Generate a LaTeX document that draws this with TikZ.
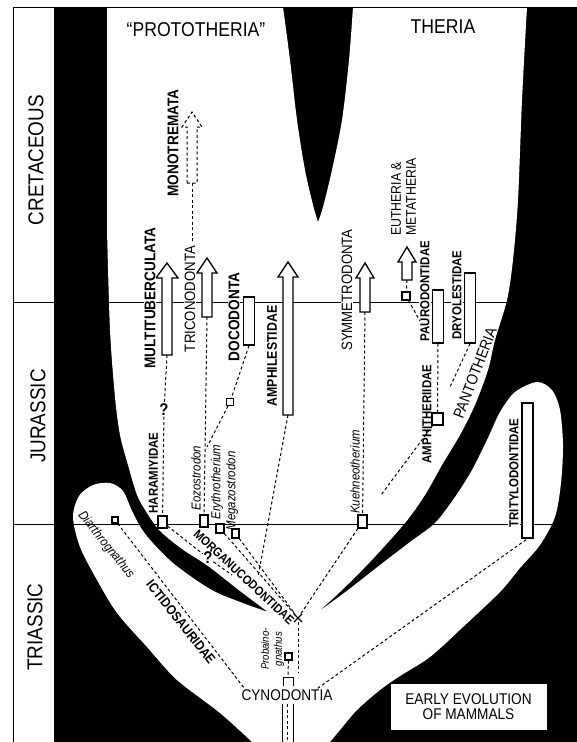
\documentclass[tikz,border=0pt]{standalone}
\usepackage{fontspec}
\setmainfont{Liberation Sans}[FakeStretch=0.88]
\usetikzlibrary{shapes.misc}

\newcommand*{\kcret}{302}
\newcommand*{\kjur}{524}

% open block arrow: [style]{name}{x}{tip}{base}{head half width}
\newcommand{\lineage}[6][]{%
	\draw[arrowline,#1] (#3-5,#5) -- (#3-5,#4+15) -- (#3-#6,#4+15) -- (#3,#4)
		-- (#3+#6,#4+15) -- (#3+5,#4+15) -- (#3+5,#5) -- cycle;
	\coordinate (#2) at (#3,#5);}

\begin{document}
\begin{tikzpicture}
[
	x=1pt, y=-1pt,
	link/.style={line width=1pt, dash pattern=on 3pt off 2.5pt},
	arrowline/.style={draw, fill=white, line width=1.3pt, line join=miter},
	bar/.style={draw, fill=white, line width=1.3pt, inner sep=0pt, minimum width=11pt},
	genus/.style={draw, fill=white, line width=1.1pt, inner sep=0pt},
	period/.style={rotate=90, font=\fontsize{21.5}{24}\selectfont},
	group/.style={font=\fontsize{20}{22}\selectfont},
	order/.style={inner sep=1pt, font=\fontsize{15}{17}\selectfont},
	boldorder/.style={inner sep=1pt, font=\bfseries\fontsize{15.5}{17}\selectfont},
	family/.style={inner sep=1pt, font=\bfseries\fontsize{13}{15}\selectfont},
	species/.style={inner sep=1pt, font=\itshape\fontsize{13}{14}\selectfont},
	query/.style={inner sep=0.5pt, font=\bfseries\fontsize{17}{18}\selectfont}
]

	\useasboundingbox (0,0) rectangle (577,742);

	% black ground and the white branches
	\fill[black] (54,7) rectangle (577,742);
	\fill[white] plot[smooth, tension=0.5] coordinates {(252,742) (220,713) (177,680) (147,647) (117,613) (97,580) (80,547) (73,517) (79,496) (93,485) (110,483) (123,491) (133,513) (146,535) (173,563) (210,589) (240,602) (268,612)}
		-- plot[smooth, tension=0.5] coordinates {(268,612) (240,591) (208,566) (182,549) (160,531) (147,513) (137,495) (128,465) (120,435) (115,397) (110,330) (107,230)}
		-- (107,7) -- (283,7)
		-- plot[smooth, tension=0.5] coordinates {(283,7) (290,60) (297,120) (305,170) (313,205) (318,222)}
		-- plot[smooth, tension=0.5] coordinates {(318,222) (323,207) (332,170) (342,120) (349,60) (353,7)}
		-- (527,7)
		-- plot[smooth, tension=0.5] coordinates {(527,7) (522,100) (518,200) (513,260) (507,300) (495,340) (488,370) (475,405) (460,435) (442,465) (425,495) (405,523) (370,562) (340,592) (318,612)}
		-- plot[smooth, tension=0.5] coordinates {(318,612) (348,590) (380,565) (410,542) (435,523) (455,497) (472,470) (487,440) (500,412) (515,392) (537,382) (552,390) (560,410) (563,445) (561,483) (555,517) (540,545) (520,568) (500,592) (463,627) (430,657) (400,676) (380,690) (357,710) (340,730) (330,742)}
		-- cycle;

	% time scale
	\draw[line width=0.8pt] (13,\kcret) -- (577,\kcret);
	\draw[line width=0.8pt] (13,\kjur) -- (577,\kjur);
	\draw[line width=0.9pt] (13,742) -- (13,7) -- (577,7);
	\node[period] (cret) at (36,160) {CRETACEOUS};
	\node[period] (jur) at (38,416) {JURASSIC};
	\node[period] (trias) at (35,627) {TRIASSIC};
	\node[group] (proto) at (196,30) {``PROTOTHERIA''};
	\node[group] (theria) at (443,27) {THERIA};

	% lineages reaching the Cretaceous
	\lineage[link]{monobase}{192}{112}{183}{10}
	\lineage{multibase}{167}{263}{355}{11}
	\lineage{triconobase}{207}{258}{317}{10}
	\lineage{amphilbase}{288}{262}{415}{10}
	\lineage{symmbase}{365}{263}{312}{9}
	\lineage{euthbase}{407}{247}{280}{9}

	\node[bar, minimum height=48pt] (docobar) at (249,321) {};
	\node[bar, minimum height=53pt] (paurobar) at (438,316.5) {};
	\node[bar, minimum height=70pt] (dryobar) at (470,308) {};
	\node[bar, minimum height=135pt] (tritylbar) at (527.5,470.5) {};

	\node[boldorder, rotate=90] (monolabel) at (173,143) {MONOTREMATA};
	\node[boldorder, rotate=90, fill=white] (multilabel) at (150,298) {MULTITUBERCULATA};
	\node[order, rotate=90, fill=white] (triconolabel) at (190,299) {TRICONODONTA};
	\node[boldorder, rotate=90, fill=white] (docolabel) at (234,317) {DOCODONTA};
	\node[boldorder, rotate=90, fill=white, font=\bfseries\fontsize{14}{16}\selectfont] (amphillabel) at (272,356) {AMPHILESTIDAE};
	\node[order, rotate=90, fill=white] (symmlabel) at (347,290) {SYMMETRODONTA};
	\node[rotate=90, align=left, inner sep=1pt, font=\fontsize{14}{15}\selectfont] (euthlabel) at (403.5,197) {EUTHERIA \&\\METATHERIA};
	\node[family, rotate=90, fill=white] (paurolabel) at (425,291) {PAURODONTIDAE};
	\node[family, rotate=90, fill=white] (dryolabel) at (457,295) {DRYOLESTIDAE};
	\node[family, rotate=90] (amphthlabel) at (427,414) {AMPHITHERIIDAE};
	\node[order, rotate=69, font=\fontsize{15.5}{17}\selectfont] (pantolabel) at (475,373) {PANTOTHERIA};
	\node[family, rotate=90, fill=white] (tritylabel) at (514,473) {TRITYLODONTIDAE};
	\node[family, rotate=90] (haralabel) at (153.5,473) {HARAMIYIDAE};

	% genera
	\node[genus, minimum width=9pt, minimum height=12pt] (hara) at (162.5,522) {};
	\node[genus, minimum width=8pt, minimum height=12pt] (eozo) at (204,521) {};
	\node[genus, minimum width=8pt, minimum height=9pt] (eryth) at (220,528.5) {};
	\node[genus, minimum width=7pt, minimum height=9pt] (megaz) at (235.5,533.5) {};
	\node[genus, minimum width=9pt, minimum height=13pt] (kuehn) at (362.5,521.5) {};
	\node[genus, minimum width=6pt, minimum height=6pt] (diarth) at (115,520) {};
	\node[genus, minimum width=7pt, minimum height=7pt] (docobox) at (230,402) {};
	\node[genus, minimum width=8pt, minimum height=8pt] (euthbox) at (406,296) {};
	\node[genus, minimum width=11pt, minimum height=12pt] (amphth) at (437.5,419) {};
	\node[genus, minimum width=7pt, minimum height=7pt] (probain) at (288.5,656.5) {};

	\node[species, rotate=90] (eozolabel) at (196,478) {Eozostrodon};
	\node[species, rotate=90] (erythlabel) at (217,482) {Erythrotherium};
	\node[species, rotate=90] (megazlabel) at (232,491) {Megazostrodon};
	\node[species, rotate=90] (kuehnlabel) at (355,472) {Kuehneotherium};
	\node[species, rotate=-51] (diarthlabel) at (106,545) {Diarthrognathus};
	\node[species, rotate=90, align=center, font=\itshape\fontsize{11}{13}\selectfont] (probainlabel) at (272.5,649) {Probaino-\\gnathus};

	\node[family, rotate=-43, font=\bfseries\fontsize{12.5}{14}\selectfont] (morglabel) at (244,577) {MORGANUCODONTIDAE};
	\node[family, rotate=-51.6, font=\bfseries\fontsize{13.5}{15}\selectfont] (ictlabel) at (181,622) {ICTIDOSAURIDAE};

	\node[query] (q1) at (164,410) {?};
	\node[query] (q2) at (208,558) {?};
	\node[cross out, draw, line width=1.2pt, minimum size=7pt, inner sep=0pt] (cross) at (298,618) {};

	\node[inner sep=1pt, font=\fontsize{15.5}{17}\selectfont] (cyno) at (287,695) {CYNODONTIA};
	\node[draw, fill=white, line width=1pt, minimum width=157pt, minimum height=47pt, align=center, font=\fontsize{15.5}{15}\selectfont] (title) at (468.5,706.5) {EARLY EVOLUTION\\OF MAMMALS};

	% loose ends
	\coordinate (monoend) at (192,242);
	\coordinate (docojoin) at (207,447);
	\coordinate (amphiljoin) at (258,577);
	\coordinate (morgjoin) at (232,575);
	\coordinate (crossend) at (298,672);
	\coordinate (cynotop) at (288,677);
	\coordinate (euthend) at (420,321);
	\coordinate (amphthend) at (381,495);
	\coordinate (dryoend) at (450,387);

	% descent
	\draw[link] (monobase) -- (monoend);
	\draw[link] (multibase) -- (q1) -- (hara);
	\draw[link] (triconobase) -- (eozo);
	\draw[link] (docobar.south) -- (docobox) -- (docojoin);
	\draw[link] (amphilbase) -- (amphiljoin);
	\draw[link] (hara) -- (q2) -- (morgjoin);
	\draw[link] (eryth) -- (cross);
	\draw[link] (megaz) -- (cross);
	\draw[link] (symmbase) -- (kuehn);
	\draw[link] (kuehn) -- (cross);
	\draw[link] (cross) -- (crossend);
	\draw[link] (euthbase) -- (euthbox) -- (euthend);
	\draw[link] (paurobar.south) -- (amphth);
	\draw[link] (amphth) -- (amphthend);
	\draw[link] (dryobar.south) -- (dryoend);
	\draw[link] (diarth) -- ([xshift=4pt]cyno.north west);
	\draw[link] ([xshift=-16pt]cyno.north east) -- (tritylbar.south);
	\draw[link] (probain) -- (cynotop);

	% cynodont stem
	\draw[line width=1pt] (283,686) -- (283,677) -- (293,677) -- (293,686);
	\draw[line width=1pt] (282,704) -- (282,742);
	\draw[line width=1pt] (293,704) -- (293,742);
	\draw[link] (287.5,704) -- (287.5,742);

\end{tikzpicture}
\end{document}
